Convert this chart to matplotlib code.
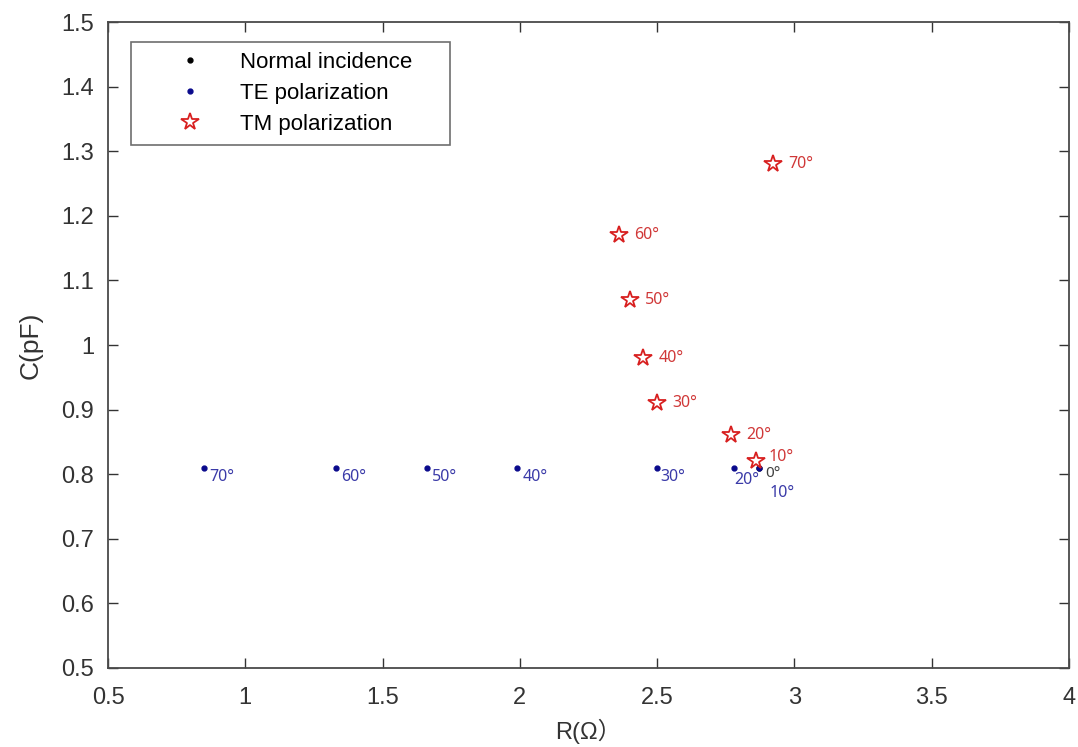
"""Equivalent circuit R-C under different incidence angles."""
import matplotlib
matplotlib.use('Agg')
import matplotlib.pyplot as plt

# data
normal_R = [2.87]
normal_C = [0.81]

te_angles = ['70°', '60°', '50°', '40°', '30°', '20°', '10°']
te_R = [0.85, 1.33, 1.66, 1.99, 2.50, 2.78, 2.87]
te_C = [0.81, 0.81, 0.81, 0.81, 0.81, 0.81, 0.81]

tm_angles = ['70°', '60°', '50°', '40°', '30°', '20°', '10°']
tm_R = [2.92, 2.36, 2.40, 2.45, 2.50, 2.77, 2.86]
tm_C = [1.28, 1.17, 1.07, 0.98, 0.91, 0.86, 0.82]

# label offsets (points)
te_off = [(4, -7), (4, -7), (4, -7), (4, -7), (2, -7), (0, -9), (8, -18)]
tm_off = [(11, 0), (11, 0), (11, 0), (11, 0), (11, 0), (11, 0), (9, 3)]

plt.rcParams['font.family'] = ['Liberation Sans', 'Noto Sans CJK SC', 'DejaVu Sans']

fig = plt.figure(figsize=(10.78, 7.47), dpi=100)
ax = fig.add_axes([0.1002, 0.1058, 0.8915, 0.8647])

ax.plot(normal_R, normal_C, 'o', color='black', markersize=3.5, linestyle='none',
        label='Normal incidence')
ax.plot(te_R, te_C, 'o', color='#0a0a8c', markersize=3.5, linestyle='none',
        label='TE polarization')
ax.plot(tm_R, tm_C, '*', color='#d82020', markerfacecolor='white', markersize=13,
        markeredgewidth=1.3, linestyle='none', label='TM polarization')

lbl_font = ['Noto Sans', 'DejaVu Sans']
for r, c, s, (dx, dy) in zip(te_R, te_C, te_angles, te_off):
    ax.annotate(s, (r, c), xytext=(dx, dy), textcoords='offset points',
                ha='left', va='center', fontsize=11.5, color='#3a3aa8', family=lbl_font)
for r, c, s, (dx, dy) in zip(tm_R, tm_C, tm_angles, tm_off):
    ax.annotate(s, (r, c), xytext=(dx, dy), textcoords='offset points',
                ha='left', va='center', fontsize=11.5, color='#d03838', family=lbl_font)
ax.annotate('0°', (normal_R[0], normal_C[0]), xytext=(5, -4), textcoords='offset points',
            ha='left', va='center', fontsize=11, color='#404040', family=lbl_font)

ax.set_xlim(0.5, 4)
ax.set_ylim(0.5, 1.5)
ax.set_xticks([0.5, 1, 1.5, 2, 2.5, 3, 3.5, 4])
ax.set_xticklabels(['0.5', '1', '1.5', '2', '2.5', '3', '3.5', '4'])
ax.set_yticks([0.5, 0.6, 0.7, 0.8, 0.9, 1.0, 1.1, 1.2, 1.3, 1.4, 1.5])
ax.set_yticklabels(['0.5', '0.6', '0.7', '0.8', '0.9', '1', '1.1', '1.2', '1.3', '1.4', '1.5'])

ax.tick_params(direction='in', top=True, right=True, length=7, width=1.0,
               labelsize=17, colors='#333333')
ax.tick_params(axis='x', pad=14)
ax.tick_params(axis='y', pad=10)
for sp in ax.spines.values():
    sp.set_color('#4a4a4a')
    sp.set_linewidth(1.3)

ax.set_xlabel('R(Ω）', fontsize=17, color='#333333')
ax.set_ylabel('C(pF)', fontsize=19, color='#333333')
ax.xaxis.set_label_coords(0.5, -0.079)
ax.yaxis.set_label_coords(-0.068, 0.5)

leg = ax.legend(loc='upper left', bbox_to_anchor=(0.024, 0.969, 0.332, 0.0),
                mode='expand', fontsize=16, frameon=True, fancybox=False,
                handletextpad=0.05, borderpad=0.45, labelspacing=0.45,
                handlelength=4.4, borderaxespad=0)
leg.get_frame().set_edgecolor('#4a4a4a')
leg.get_frame().set_linewidth(1.2)

fig.savefig('out.png', dpi=100)
